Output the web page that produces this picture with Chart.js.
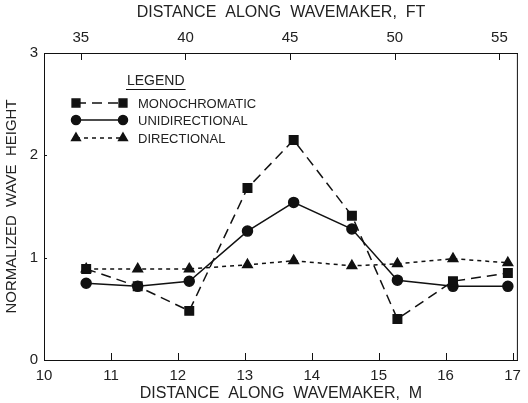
<!DOCTYPE html>
<html>
<head>
<meta charset="utf-8">
<script src="https://cdn.jsdelivr.net/npm/chart.js@4"></script>
<style>
  html, body { margin: 0; padding: 0; background: #fff; }
  #wrap { width: 528px; height: 403px; }
</style>
</head>
<body>
<div id="wrap"><canvas id="waveChart" width="528" height="403"></canvas></div>
<script>
// distance along wavemaker (m) for each gauge
const distanceM = [10.63, 11.40, 12.17, 13.04, 13.73, 14.60, 15.28, 16.11, 16.93];
const monochromatic = [0.89, 0.72, 0.48, 1.68, 2.15, 1.41, 0.40, 0.77, 0.85];
const unidirectional = [0.75, 0.72, 0.77, 1.26, 1.54, 1.28, 0.78, 0.72, 0.72];
const directional = [0.89, 0.89, 0.89, 0.93, 0.97, 0.92, 0.94, 0.99, 0.95];

const seriesNames = ['MONOCHROMATIC', 'UNIDIRECTIONAL', 'DIRECTIONAL'];
const meterTicks = [10, 11, 12, 13, 14, 15, 16, 17];
const feetTicks = [35, 40, 45, 50, 55];
const heightTicks = [0, 1, 2, 3];

const ink = '#111';
const textColor = '#222';
const font = 'Liberation Sans, Arial, sans-serif';

function toPoints(values) {
    return values.map((v, i) => ({ x: distanceM[i], y: v }));
}

// inward tick marks + full frame
const frameTicks = {
    id: 'frameTicks',
    afterDraw(chart) {
        const ctx = chart.ctx;
        const a = chart.chartArea;
        ctx.save();
        ctx.strokeStyle = ink;
        ctx.lineWidth = 1;
        ctx.strokeRect(a.left + 0.5, a.top + 0.5, a.right - a.left - 1, a.bottom - a.top);
        ctx.beginPath();
        meterTicks.forEach(t => {
            const x = Math.round(chart.scales.x.getPixelForValue(t)) + 0.5;
            ctx.moveTo(x, a.bottom);
            ctx.lineTo(x, a.bottom - 7);
        });
        feetTicks.forEach(t => {
            const x = Math.round(chart.scales.x2.getPixelForValue(t)) + 0.5;
            ctx.moveTo(x, a.top);
            ctx.lineTo(x, a.top + 7);
        });
        heightTicks.forEach(t => {
            const y = Math.round(chart.scales.y.getPixelForValue(t)) + 0.5;
            ctx.moveTo(a.left, y);
            ctx.lineTo(a.left + 3, y);
        });
        ctx.stroke();
        ctx.restore();
    }
};

// legend box drawn inside the plot, top-left
const innerLegend = {
    id: 'innerLegend',
    afterDraw(chart) {
        const ctx = chart.ctx;
        ctx.save();
        ctx.fillStyle = textColor;
        ctx.font = '14px ' + font;
        ctx.textBaseline = 'middle';
        ctx.textAlign = 'left';
        ctx.fillText('LEGEND', 127, 81);
        const w = ctx.measureText('LEGEND').width;
        ctx.strokeStyle = ink;
        ctx.lineWidth = 1;
        ctx.beginPath();
        ctx.moveTo(126, 89.5);
        ctx.lineTo(128 + w, 89.5);
        ctx.stroke();

        const rows = [103, 120, 138];
        chart.data.datasets.forEach((ds, i) => {
            const y = rows[i];
            ctx.strokeStyle = ink;
            ctx.lineWidth = ds.borderWidth;
            ctx.setLineDash(ds.borderDash || []);
            ctx.beginPath();
            ctx.moveTo(76, y);
            ctx.lineTo(123, y);
            ctx.stroke();
            ctx.setLineDash([]);
            ctx.fillStyle = ink;
            const opts = { pointStyle: ds.pointStyle, radius: ds.pointRadius - 0.5, rotation: 0, borderWidth: 1 };
            Chart.helpers.drawPoint(ctx, opts, 76, y);
            Chart.helpers.drawPoint(ctx, opts, 123, y);
            ctx.fillStyle = textColor;
            ctx.font = '13px ' + font;
            ctx.fillText(ds.label, 138, y + 1);
        });
        ctx.restore();
    }
};

const ctx = document.getElementById('waveChart').getContext('2d');
new Chart(ctx, {
    type: 'line',
    data: {
        datasets: [{
            label: seriesNames[0],
            data: toPoints(monochromatic),
            borderColor: ink,
            backgroundColor: ink,
            borderWidth: 1.5,
            borderDash: [10, 6],
            pointStyle: 'rect',
            pointRadius: 6,
            tension: 0
        }, {
            label: seriesNames[1],
            data: toPoints(unidirectional),
            borderColor: ink,
            backgroundColor: ink,
            borderWidth: 1.5,
            pointStyle: 'circle',
            pointRadius: 5,
            tension: 0
        }, {
            label: seriesNames[2],
            data: toPoints(directional),
            borderColor: ink,
            backgroundColor: ink,
            borderWidth: 1.5,
            borderDash: [4, 4],
            pointStyle: 'triangle',
            pointRadius: 5.5,
            tension: 0
        }]
    },
    options: {
        responsive: false,
        animation: false,
        layout: { padding: { right: 8, top: 0, left: 0, bottom: 0 } },
        plugins: {
            legend: { display: false },
            tooltip: { enabled: false }
        },
        scales: {
            x: {
                type: 'linear',
                position: 'bottom',
                min: 10,
                max: 17.08,
                afterFit: s => { s.height = 43; },
                grid: { drawOnChartArea: false, drawTicks: false },
                border: { color: ink },
                ticks: {
                    stepSize: 1,
                    includeBounds: false,
                    autoSkip: false,
                    maxRotation: 0,
                    padding: 7,
                    color: textColor,
                    font: { family: font, size: 15 }
                },
                title: {
                    display: true,
                    text: 'DISTANCE  ALONG  WAVEMAKER,  M',
                    color: textColor,
                    font: { family: font, size: 16 },
                    padding: { top: 0, bottom: 0 }
                }
            },
            x2: {
                type: 'linear',
                position: 'top',
                min: 33.24,
                max: 55.885,
                afterFit: s => { s.height = 53; },
                grid: { drawOnChartArea: false, drawTicks: false },
                border: { color: ink },
                ticks: {
                    stepSize: 5,
                    includeBounds: false,
                    autoSkip: false,
                    maxRotation: 0,
                    padding: 6,
                    color: textColor,
                    font: { family: font, size: 15 }
                },
                title: {
                    display: true,
                    text: 'DISTANCE  ALONG  WAVEMAKER,  FT',
                    color: textColor,
                    font: { family: font, size: 16 },
                    padding: { top: 3, bottom: 0 }
                }
            },
            y: {
                min: 0,
                max: 3,
                afterFit: s => { s.width = 44; },
                grid: { drawOnChartArea: false, drawTicks: false },
                border: { color: ink },
                ticks: {
                    stepSize: 1,
                    autoSkip: false,
                    padding: 6,
                    color: textColor,
                    font: { family: font, size: 15 }
                },
                title: {
                    display: true,
                    text: 'NORMALIZED  WAVE  HEIGHT',
                    color: textColor,
                    font: { family: font, size: 15 },
                    padding: { top: 3, bottom: 0 }
                }
            }
        }
    },
    plugins: [frameTicks, innerLegend]
});
</script>
</body>
</html>
